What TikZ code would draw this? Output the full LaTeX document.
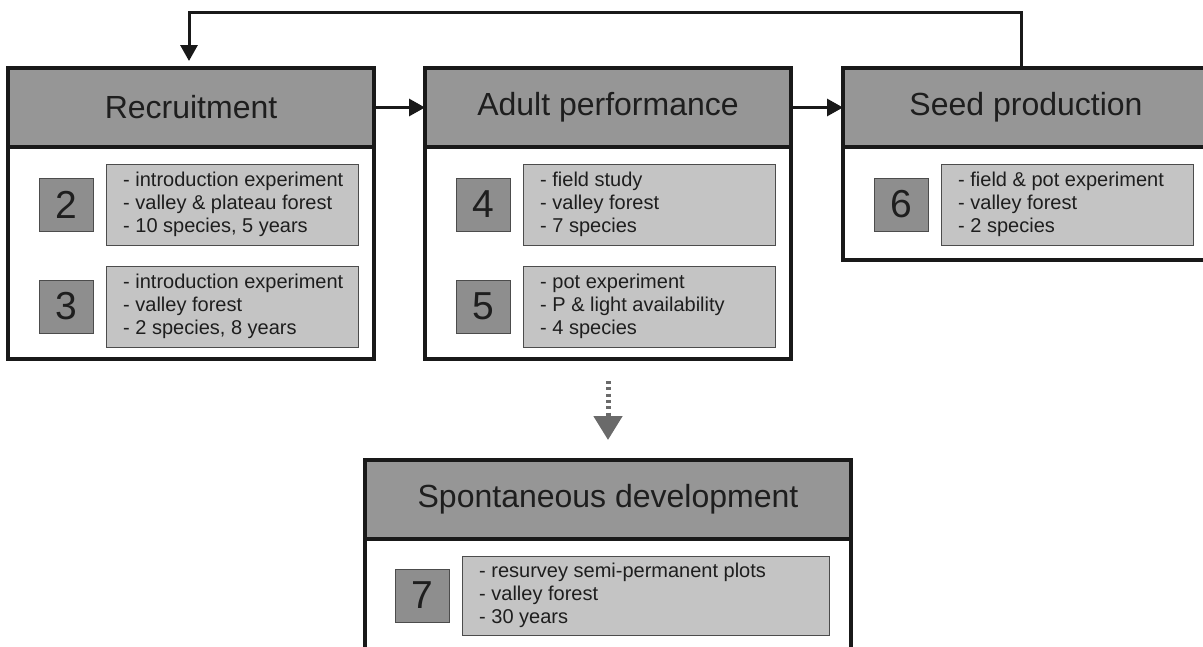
\documentclass[tikz,border=0pt]{standalone}
\usepackage{fontspec}
\setmainfont{Liberation Sans}
\usetikzlibrary{positioning,arrows.meta}

\definecolor{headgray}{HTML}{969696}
\definecolor{numgray}{HTML}{8E8E8E}
\definecolor{boxgray}{HTML}{C4C4C4}
\definecolor{dotgray}{HTML}{6A6A6A}
\definecolor{txt}{HTML}{1E1E1E}

\begin{document}
\begin{tikzpicture}[x=1pt,y=-1pt,
    stage/.style={draw=black!90, line width=3.5pt, minimum width=366pt, inner sep=0pt, outer sep=0pt},
    head/.style={stage, fill=headgray, minimum height=79pt, text=txt, font=\fontsize{32}{36}\selectfont},
    body/.style={stage, fill=white, below=0pt of #1},
    numbox/.style={draw=black!70, line width=1pt, fill=numgray, minimum width=54pt, minimum height=53pt, inner sep=0pt, outer sep=0pt, text=txt, font=\fontsize{39}{40}\selectfont},
    infobox/.style={draw=black!70, line width=1pt, fill=boxgray, minimum width=252pt, minimum height=81pt, inner sep=0pt, outer sep=0pt},
    infotext/.style={align=left, inner sep=0pt, text=txt, font=\fontsize{20}{23}\selectfont},
    arr/.style={draw=black!90, line width=3pt, -{Triangle[length=16pt,width=17pt]}},
    dotarr/.style={draw=dotgray, line width=5pt, dash pattern=on 3pt off 3.3pt, -{Triangle[length=24pt,width=28pt]}}
  ]
    \useasboundingbox (0,0) rectangle (1203,646);
    \clip (0,0) rectangle (1203,646);

    \node[head, anchor=north west] (rech) at (8,68) {Recruitment};
    \node[body=rech, minimum height=212pt] (recb) {};
    \node[infobox, below right=17pt and 98pt of recb.north west] (t2) {};
    \node[infotext, right=17pt of t2.west] {- introduction experiment\\- valley \& plateau forest\\- 10 species, 5 years};
    \node[numbox, left=13pt of t2] (n2) {2};
    \node[infobox, below=21pt of t2] (t3) {};
    \node[infotext, right=17pt of t3.west] {- introduction experiment\\- valley forest\\- 2 species, 8 years};
    \node[numbox, left=13pt of t3] (n3) {3};

    \node[head, right=51pt of rech] (adh) {Adult performance};
    \node[body=adh, minimum height=212pt] (adb) {};
    \node[infobox, below right=17pt and 98pt of adb.north west] (t4) {};
    \node[infotext, right=17pt of t4.west] {- field study\\- valley forest\\- 7 species};
    \node[numbox, left=13pt of t4] (n4) {4};
    \node[infobox, below=21pt of t4] (t5) {};
    \node[infotext, right=17pt of t5.west] {- pot experiment\\- P \& light availability\\- 4 species};
    \node[numbox, left=13pt of t5] (n5) {5};

    \node[head, right=52pt of adh] (seedh) {Seed production};
    \node[body=seedh, minimum height=113pt] (seedb) {};
    \node[infobox, below right=17pt and 98pt of seedb.north west] (t6) {};
    \node[infotext, right=17pt of t6.west] {- field \& pot experiment\\- valley forest\\- 2 species};
    \node[numbox, left=13pt of t6] (n6) {6};

    \node[head, minimum width=486pt, below=101pt of adb] (sph) {Spontaneous development};
    \node[body=sph, minimum width=486pt, minimum height=131pt] (spb) {};
    \node[infobox, minimum width=367pt, minimum height=79pt, below right=17pt and 97pt of spb.north west] (t7) {};
    \node[infotext, right=17pt of t7.west] {- resurvey semi-permanent plots\\- valley forest\\- 30 years};
    \node[numbox, left=13pt of t7] (n7) {7};

    \coordinate (fbr) at (1021,12);
    \coordinate (fbl) at (189,12);

    \draw[arr] (rech) -- (adh);
    \draw[arr] (adh) -- (seedh);
    \draw[arr, shorten >=7pt] (fbr |- seedh.north) -- (fbr) -- (fbl) -- (fbl |- rech.north);
    \draw[dotarr, shorten <=22pt, shorten >=20pt] (adb) -- (sph);
  \end{tikzpicture}
\end{document}
